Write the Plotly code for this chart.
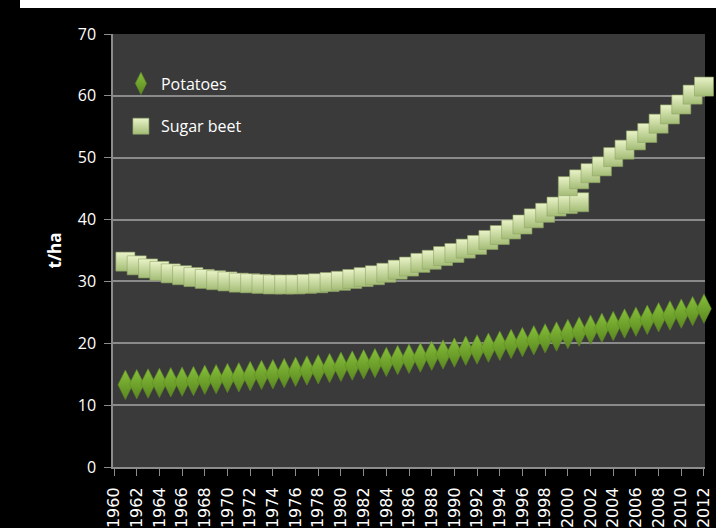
import plotly.graph_objects as go

# Yield trends, tonnes per hectare

# trend for sugar beet, first segment (1961-2001)
beet_years_a = list(range(1961, 2002))
beet_a = [33.2, 32.6, 32.1, 31.7, 31.3, 31.0, 30.7, 30.4, 30.2, 30.0,
          29.8, 29.7, 29.6, 29.5, 29.5, 29.5, 29.6, 29.7, 29.9, 30.1,
          30.4, 30.7, 31.0, 31.4, 31.9, 32.4, 33.0, 33.5, 34.1, 34.6,
          35.3, 35.9, 36.7, 37.5, 38.4, 39.2, 40.2, 41.1, 42.1, 42.5,
          42.8]

# trend for sugar beet, second segment (2000-2012)
beet_years_b = list(range(2000, 2013))
beet_b = [45.4, 46.5, 47.5, 48.6, 50.1, 51.3, 52.8, 54.0, 55.5, 57.0,
          58.6, 60.2, 61.5]

# trend for potatoes (1961-2012)
potato_years = list(range(1961, 2013))
potatoes = [13.3, 13.4, 13.5, 13.6, 13.7, 13.8, 13.9, 14.1, 14.2, 14.4,
            14.5, 14.7, 14.9, 15.0, 15.2, 15.4, 15.6, 15.8, 16.0, 16.2,
            16.4, 16.6, 16.8, 17.0, 17.3, 17.5, 17.7, 18.0, 18.2, 18.5,
            18.8, 19.0, 19.3, 19.6, 19.9, 20.2, 20.5, 20.8, 21.1, 21.5,
            21.9, 22.2, 22.5, 22.8, 23.2, 23.5, 23.8, 24.2, 24.5, 24.8,
            25.2, 25.6]

tick_years = list(range(1960, 2013, 2))
tick_text = [str(y) for y in tick_years]
y_ticks = [0, 10, 20, 30, 40, 50, 60, 70]

W, H = 716, 528
ML, MR, MT, MB = 113, 11, 34, 61
PW, PH = W - ML - MR, H - MT - MB

beet_marker = dict(symbol="square", size=19, color="#eaf3c8",
                   gradient=dict(type="vertical", color="#a3bc76"),
                   line=dict(color="#8fa565", width=0.6))

fig = go.Figure()

fig.add_trace(go.Scatter(
    x=potato_years, y=potatoes, name="Potatoes", mode="markers",
    legendgroup="p", cliponaxis=False,
    marker=dict(symbol="diamond-tall", size=21, color="#86c03a",
                gradient=dict(type="vertical", color="#5a8720"),
                line=dict(color="#5f8a25", width=0.6)),
))

fig.add_trace(go.Scatter(
    x=beet_years_a, y=beet_a, name="Sugar beet", mode="markers",
    legendgroup="b", cliponaxis=False, marker=beet_marker,
))

fig.add_trace(go.Scatter(
    x=beet_years_b, y=beet_b, name="Sugar beet", mode="markers",
    legendgroup="b", showlegend=False, cliponaxis=False, marker=beet_marker,
))

fig.update_layout(
    width=W, height=H,
    margin=dict(l=ML, r=MR, t=MT, b=MB, autoexpand=False),
    paper_bgcolor="#000000",
    plot_bgcolor="#3a3a3b",
    font=dict(family="DejaVu Sans", color="#ffffff"),
    showlegend=True,
    legend=dict(
        x=0.0134, y=0.925, xanchor="left", yanchor="top",
        bgcolor="rgba(0,0,0,0)",
        font=dict(family="Open Sans", size=16, color="#ffffff"),
        tracegroupgap=19, itemwidth=30,
    ),
    xaxis=dict(
        range=[1959.91, 2012.09], automargin=False,
        tickmode="array", tickvals=tick_years, ticktext=tick_text,
        tickangle=-90, ticks="outside", ticklen=7, tickcolor="#8c8c8c",
        ticklabelstandoff=5,
        tickfont=dict(family="DejaVu Sans", size=16, color="#ffffff"),
        showgrid=False, zeroline=False,
        showline=True, linecolor="#8c8c8c", linewidth=2,
    ),
    yaxis=dict(
        range=[0, 70], automargin=False,
        tickmode="array", tickvals=y_ticks,
        ticks="outside", ticklen=7, tickcolor="#8c8c8c",
        ticklabelstandoff=5,
        tickfont=dict(family="Open Sans", size=16, color="#ffffff"),
        showgrid=True, gridcolor="#8a8a8a", gridwidth=1.5,
        zeroline=False,
        showline=True, linecolor="#8c8c8c", linewidth=1.5,
        title=dict(text="<b>t/ha</b>", standoff=12,
                   font=dict(family="Open Sans", size=17, color="#ffffff")),
    ),
    shapes=[
        # white margin along the top of the panel (8 px tall, from x=20 px)
        dict(type="rect", xref="paper", yref="paper",
             x0=(20 - ML) / PW, x1=(W - ML) / PW,
             y0=1 + (MT - 8) / PH, y1=1 + MT / PH,
             fillcolor="#ffffff", line=dict(width=0), layer="above"),
    ],
)

fig.write_html("out.html")
